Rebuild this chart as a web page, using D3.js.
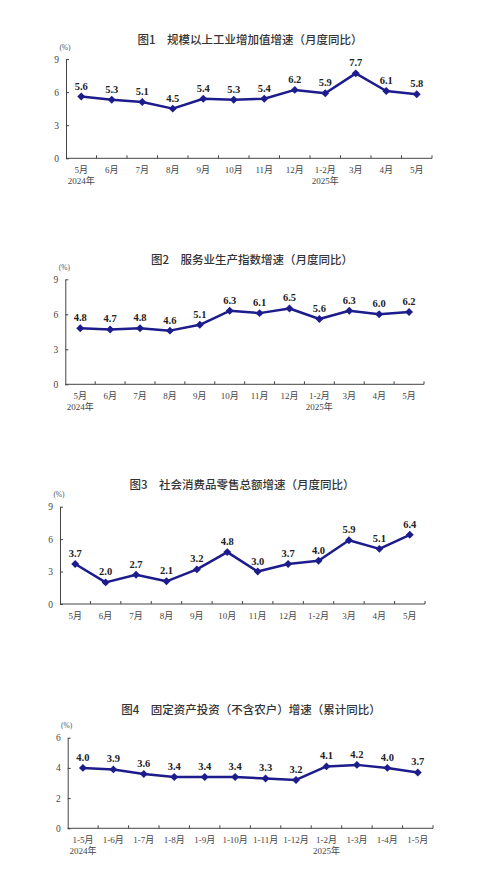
<!DOCTYPE html>
<html>
<head>
<meta charset="utf-8">
<script src="https://cdn.jsdelivr.net/npm/d3@7"></script>
<style>
  body { margin: 0; background: #fff; }
  svg { display: block; }
  .title { font-family: "Noto Sans CJK SC", sans-serif; font-size: 11.5px; font-weight: 500; fill: #333; }
  .lbl { font-family: "Liberation Serif", "Noto Sans CJK SC", serif; font-size: 9px; fill: #444; }
  .val { font-family: "Liberation Serif", serif; font-size: 10.5px; font-weight: bold; fill: #222; }
  .unit { font-family: "Liberation Serif", "Noto Sans CJK SC", serif; font-size: 7.5px; fill: #555; }
</style>
</head>
<body>
<svg width="482" height="871"></svg>
<script>
// categories
var monthsA = ["5月", "6月", "7月", "8月", "9月", "10月", "11月", "12月", "1-2月", "3月", "4月", "5月"];
var monthsB = ["1-5月", "1-6月", "1-7月", "1-8月", "1-9月", "1-10月", "1-11月", "1-12月", "1-2月", "1-3月", "1-4月", "1-5月"];

// series
var industry = [5.6, 5.3, 5.1, 4.5, 5.4, 5.3, 5.4, 6.2, 5.9, 7.7, 6.1, 5.8];
var services = [4.8, 4.7, 4.8, 4.6, 5.1, 6.3, 6.1, 6.5, 5.6, 6.3, 6.0, 6.2];
var retail = [3.7, 2.0, 2.7, 2.1, 3.2, 4.8, 3.0, 3.7, 4.0, 5.9, 5.1, 6.4];
var investment = [4.0, 3.9, 3.6, 3.4, 3.4, 3.4, 3.3, 3.2, 4.1, 4.2, 4.0, 3.7];

var ticks9 = [0, 3, 6, 9];
var ticks6 = [0, 2, 4, 6];

var titles = [
    "图1　规模以上工业增加值增速（月度同比）",
    "图2　服务业生产指数增速（月度同比）",
    "图3　社会消费品零售总额增速（月度同比）",
    "图4　固定资产投资（不含农户）增速（累计同比）"
];

var lineColor = "#1c1c8c";
var axisColor = "#444";

var svg = d3.select("svg");

var charts = [
    {title: titles[0], cats: monthsA, vals: industry, ticks: ticks9, x0: 66, x1: 432, top: 59, bot: 158.3, tx: 250, ty: 39, ly: 170, years: true},
    {title: titles[1], cats: monthsA, vals: services, ticks: ticks9, x0: 65.3, x1: 424, top: 279.3, bot: 384.3, tx: 252, ty: 259, ly: 396, years: true},
    {title: titles[2], cats: monthsA, vals: retail, ticks: ticks9, x0: 60, x1: 425, top: 506.7, bot: 604, tx: 242, ty: 484, ly: 615.7, years: false},
    {title: titles[3], cats: monthsB, vals: investment, ticks: ticks6, x0: 67.7, x1: 433, top: 737.7, bot: 828.3, tx: 251, ty: 709, ly: 840, years: true}
];

charts.forEach(function(c) {
    var g = svg.append("g");

    var x = d3.scaleBand()
        .domain(d3.range(c.cats.length))
        .range([c.x0, c.x1]);

    var y = d3.scaleLinear()
        .domain([0, d3.max(c.ticks)])
        .range([c.bot, c.top]);

    g.append("text").attr("class", "title")
        .attr("x", c.tx).attr("y", c.ty)
        .attr("text-anchor", "middle").attr("dominant-baseline", "central")
        .text(c.title);

    g.append("text").attr("class", "unit")
        .attr("x", c.x0 - 1).attr("y", c.top - 12)
        .attr("text-anchor", "middle").attr("dominant-baseline", "central")
        .text("(%)");

    // y axis
    var yAxis = g.append("g")
        .attr("transform", "translate(" + c.x0 + ",0)")
        .call(d3.axisLeft(y).tickValues(c.ticks).tickFormat(d3.format("d"))
            .tickSizeInner(-3).tickSizeOuter(0).tickPadding(7));
    yAxis.attr("font-family", null).attr("font-size", null);
    yAxis.select(".domain").attr("stroke", axisColor);
    yAxis.selectAll(".tick line").attr("stroke", axisColor);
    yAxis.selectAll(".tick text").attr("class", "lbl").attr("fill", "#444").style("font-size", "9.5px");

    // x axis
    g.append("line")
        .attr("x1", c.x0).attr("x2", c.x1)
        .attr("y1", c.bot).attr("y2", c.bot)
        .attr("stroke", axisColor);
    g.selectAll(".xt")
        .data(d3.range(1, c.cats.length + 1))
        .enter().append("line")
        .attr("x1", function(i) { return c.x0 + i * x.step(); })
        .attr("x2", function(i) { return c.x0 + i * x.step(); })
        .attr("y1", c.bot).attr("y2", c.bot - 3)
        .attr("stroke", axisColor);

    g.selectAll(".xl")
        .data(c.cats)
        .enter().append("text").attr("class", "lbl")
        .attr("x", function(d, i) { return x(i) + x.bandwidth() / 2; })
        .attr("y", c.ly)
        .attr("text-anchor", "middle").attr("dominant-baseline", "central")
        .text(function(d) { return d; });

    if (c.years) {
        g.append("text").attr("class", "lbl")
            .attr("x", x(0) + x.bandwidth() / 2).attr("y", c.ly + 11)
            .attr("text-anchor", "middle").attr("dominant-baseline", "central")
            .text("2024年");
        g.append("text").attr("class", "lbl")
            .attr("x", x(8) + x.bandwidth() / 2).attr("y", c.ly + 11)
            .attr("text-anchor", "middle").attr("dominant-baseline", "central")
            .text("2025年");
    }

    var line = d3.line()
        .x(function(d, i) { return x(i) + x.bandwidth() / 2; })
        .y(function(d) { return y(d); });

    g.append("path")
        .datum(c.vals)
        .attr("d", line)
        .attr("fill", "none")
        .attr("stroke", lineColor)
        .attr("stroke-width", 2.5)
        .attr("stroke-linejoin", "round");

    g.selectAll(".pt")
        .data(c.vals)
        .enter().append("path")
        .attr("d", d3.symbol(d3.symbolDiamond2, 40))
        .attr("transform", function(d, i) { return "translate(" + (x(i) + x.bandwidth() / 2) + "," + y(d) + ")"; })
        .attr("fill", lineColor);

    g.selectAll(".vl")
        .data(c.vals)
        .enter().append("text").attr("class", "val")
        .attr("x", function(d, i) { return x(i) + x.bandwidth() / 2; })
        .attr("y", function(d) { return y(d) - 7; })
        .attr("text-anchor", "middle")
        .text(function(d) { return d.toFixed(1); });
});
</script>
</body>
</html>
